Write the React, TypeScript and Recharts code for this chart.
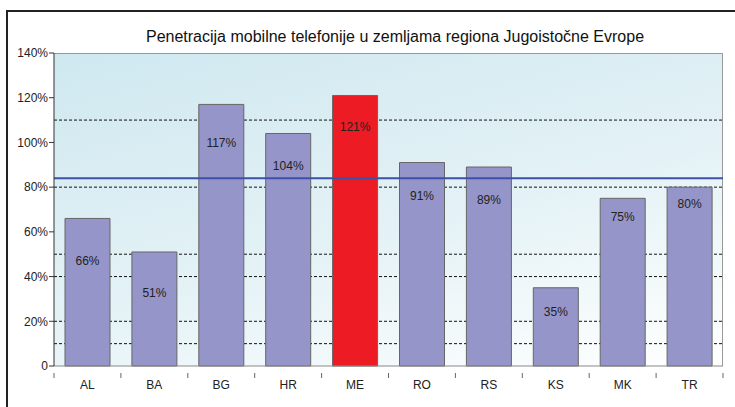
import React from "react";
import {
  ComposedChart,
  Bar,
  Cell,
  XAxis,
  YAxis,
  CartesianGrid,
  ReferenceLine,
} from "recharts";

const CATEGORIES = ["AL", "BA", "BG", "HR", "ME", "RO", "RS", "KS", "MK", "TR"];
const PENETRATION = [66, 51, 117, 104, 121, 91, 89, 35, 75, 80];
const AVERAGE = 84;
const HIGHLIGHT = "ME";
const Y_TICKS = [0, 20, 40, 60, 80, 100, 120, 140];
const GRID_VALUES = [10, 20, 40, 50, 80, 110];

// label distance below bar top (manually placed in the original)
const LABEL_DY = [43, 41, 39, 33, 32, 33, 33, 24, 19, 17];

const TITLE = "Penetracija mobilne telefonije u zemljama regiona Jugoistočne Evrope";

const W = 735;
const H = 407;
const M = { top: 53, right: 12, bottom: 0, left: 0 };
const Y_W = 54;
const X_H = 41;
const PLOT_W = W - M.left - M.right - Y_W;
const BAND = PLOT_W / CATEGORIES.length;

const data = CATEGORIES.map((c, i) => ({ name: c, value: PENETRATION[i] }));

const FONT = "'Liberation Sans', Arial, sans-serif";

function XTick(props: any) {
  const { x, y, payload, index } = props;
  const left = x - BAND / 2;
  return (
    <g>
      <line x1={left} x2={left} y1={y - 1} y2={y + 4} stroke="#666" />
      {index === CATEGORIES.length - 1 && (
        <line x1={left + BAND} x2={left + BAND} y1={y - 1} y2={y + 4} stroke="#666" />
      )}
      <text x={x} y={y + 15} textAnchor="middle" fontSize={12} fill="#222" fontFamily={FONT}>
        {payload.value}
      </text>
    </g>
  );
}

function BarLabel(props: any) {
  const { x, y, width, value, index } = props;
  return (
    <text
      x={x + width / 2}
      y={y + LABEL_DY[index] + 4}
      textAnchor="middle"
      fontSize={12}
      fill="#222"
      fontFamily={FONT}
    >
      {value}%
    </text>
  );
}

export default function App() {
  return (
    <div style={{ position: "absolute", left: 0, top: 0, width: W, height: H, background: "#fff", overflow: "hidden" }}>
      {/* outer frame */}
      <div style={{ position: "absolute", left: 6, top: 10, width: W, height: H, borderTop: "2px solid #222", borderLeft: "2px solid #222" }} />
      <div
        style={{
          position: "absolute",
          left: 0,
          top: 28,
          width: 790,
          textAlign: "center",
          fontFamily: FONT,
          fontSize: 16,
          color: "#111",
        }}
      >
        {TITLE}
      </div>
      {/* plot background */}
      <div
        style={{
          position: "absolute",
          left: M.left + Y_W,
          top: M.top,
          width: PLOT_W,
          height: H - M.top - X_H,
          background: "linear-gradient(165deg, #cfe8f0 0%, #e4f2f6 55%, #ffffff 100%)",
          borderTop: "1px solid #999",
          borderRight: "1px solid #999",
          boxSizing: "border-box",
        }}
      />
      <div style={{ position: "absolute", left: 0, top: 0 }}>
        <ComposedChart width={W} height={H} data={data} margin={M} barCategoryGap={0}>
          <CartesianGrid
            vertical={false}
            horizontalValues={GRID_VALUES}
            stroke="#111"
            strokeDasharray="3 2"
          />
          <XAxis
            dataKey="name"
            height={X_H}
            axisLine={{ stroke: "#888" }}
            tickLine={false}
            tick={<XTick />}
            interval={0}
          />
          <YAxis
            width={Y_W}
            domain={[0, 140]}
            ticks={Y_TICKS}
            interval={0}
            tickFormatter={(v: number) => (v === 0 ? "0" : `${v}%`)}
            axisLine={{ stroke: "#333" }}
            tickLine={{ stroke: "#333" }}
            tickSize={5}
            tickMargin={1}
            tick={{ fontSize: 12, fill: "#222", fontFamily: FONT }}
          />
          <Bar dataKey="value" barSize={45} stroke="#666" strokeWidth={1} isAnimationActive={false} label={<BarLabel />}>
            {data.map((d) => (
              <Cell key={d.name} fill={d.name === HIGHLIGHT ? "#ed1c24" : "#9595c9"} />
            ))}
          </Bar>
          <ReferenceLine y={AVERAGE} stroke="#3b52a8" strokeWidth={2} />
        </ComposedChart>
      </div>
    </div>
  );
}
